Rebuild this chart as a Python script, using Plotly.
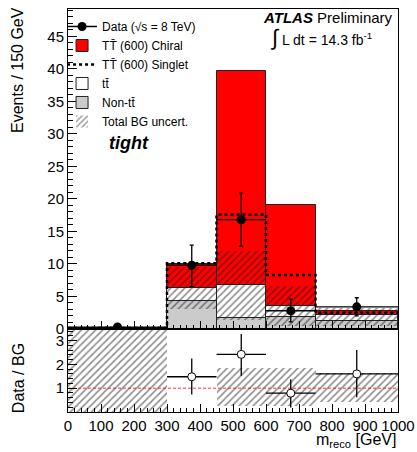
import plotly.graph_objects as go

# ---- data ----
bin_lo = [0, 300, 450, 600, 750]
bin_hi = [300, 450, 600, 750, 1000]
non_tt = [0.05, 4.3, 1.65, 1.9, 1.25]
ttbar = [0.05, 2.05, 5.05, 1.6, 0.9]
chiral = [0.05, 3.6, 33.0, 15.5, 0.65]
singlet = [0.15, 10.1, 17.6, 8.3, 2.5]

data_val = [0.3, 9.8, 16.8, 2.8, 3.4]
data_up = [0.0, 3.1, 4.1, 1.8, 1.4]
data_dn = [0.0, 3.3, 4.1, 1.7, 1.4]

band_lo = [0.0, 3.0, 1.4, 0.5, 0.45]
band_hi = [0.15, 9.5, 12.0, 6.6, 3.2]

ratio_val = [None, 1.48, 2.42, 0.79, 1.6]
ratio_up = [0, 0.77, 0.86, 0.59, 1.0]
ratio_dn = [0, 0.75, 0.9, 0.6, 0.98]
ratio_band_lo = [0.0, None, 0.24, 0.24, 0.4]
ratio_band_hi = [3.47, None, 1.83, 1.83, 1.62]

x_ticks = [0, 100, 200, 300, 400, 500, 600, 700, 800, 900, 1000]

# ---- derived ----
centers = [(a + b) / 2 for a, b in zip(bin_lo, bin_hi)]
widths = [b - a for a, b in zip(bin_lo, bin_hi)]
base_tt = non_tt
base_sig = [a + b for a, b in zip(non_tt, ttbar)]
band_h = [h - l for h, l in zip(band_hi, band_lo)]
rb_base = [l if l is not None else 0 for l in ratio_band_lo]
rb_h = [(h - l) if h is not None else 0 for h, l in zip(ratio_band_hi, ratio_band_lo)]
half_w = [w / 2 for w in widths]

FONT = "Liberation Sans, Arial, sans-serif"
OUT = "#222222"
hatch = dict(shape="/", fgcolor="#1a1a1a", bgcolor="rgba(0,0,0,0)", size=5,
             solidity=0.32, fillmode="overlay")

fig = go.Figure()

# main stack
fig.add_trace(go.Bar(x=centers, y=non_tt, base=[0] * 5, width=widths,
                     marker=dict(color="#cbcbcb", line=dict(color=OUT, width=1)),
                     name="Non-tt̄", legendrank=5, xaxis="x", yaxis="y"))
fig.add_trace(go.Bar(x=centers, y=ttbar, base=base_tt, width=widths,
                     marker=dict(color="white", line=dict(color=OUT, width=1)),
                     name="tt̄", legendrank=4, xaxis="x", yaxis="y"))
fig.add_trace(go.Bar(x=centers, y=chiral, base=base_sig, width=widths,
                     marker=dict(color="#ff0000", line=dict(color=OUT, width=1)),
                     name="TT̄ (600) Chiral", legendrank=2, xaxis="x", yaxis="y"))
fig.add_trace(go.Bar(x=centers, y=band_h, base=band_lo, width=widths,
                     marker=dict(color="rgba(0,0,0,0)", pattern=hatch,
                                 line=dict(width=0)),
                     name="Total BG uncert.", legendrank=6, xaxis="x", yaxis="y"))

# singlet dotted line
fig.add_trace(go.Scatter(x=bin_lo + [bin_hi[-1]], y=singlet + [singlet[-1]],
                         mode="lines", line=dict(color="black", width=2.5, dash="dot", shape="hv"),
                         name="TT̄ (600) Singlet", legendrank=3, xaxis="x", yaxis="y"))

# data
fig.add_trace(go.Scatter(x=centers, y=data_val, mode="markers",
                         marker=dict(color="black", size=9),
                         error_y=dict(type="data", symmetric=False, array=data_up,
                                      arrayminus=data_dn, color="black", thickness=1.3, width=2),
                         error_x=dict(type="data", array=half_w, color="black",
                                      thickness=1.3, width=0),
                         showlegend=False, xaxis="x", yaxis="y"))
fig.add_trace(go.Scatter(x=[None], y=[None], mode="lines+markers",
                         marker=dict(color="black", size=9), line=dict(color="black", width=1.5),
                         name="Data (√s = 8 TeV)", legendrank=1, xaxis="x", yaxis="y"))

# ratio panel
fig.add_trace(go.Bar(x=centers, y=rb_h, base=rb_base, width=widths,
                     marker=dict(color="rgba(0,0,0,0)", pattern=hatch, line=dict(width=0)),
                     showlegend=False, xaxis="x2", yaxis="y2"))
fig.add_trace(go.Scatter(x=[bin_lo[0], bin_hi[-1]], y=[1, 1], mode="lines",
                         line=dict(color="red", width=0.8, dash="3px,2px"),
                         showlegend=False, xaxis="x2", yaxis="y2"))
fig.add_trace(go.Scatter(x=centers, y=ratio_val, mode="markers",
                         marker=dict(color="white", size=8, line=dict(color="black", width=1)),
                         error_y=dict(type="data", symmetric=False, array=ratio_up,
                                      arrayminus=ratio_dn, color="black", thickness=1.3, width=0),
                         error_x=dict(type="data", array=half_w, color="black",
                                      thickness=1.3, width=0),
                         showlegend=False, xaxis="x2", yaxis="y2"))

axis_common = dict(showline=True, linecolor="black", linewidth=1, mirror=True,
                   ticks="inside", tickcolor="black", showgrid=False, zeroline=False,
                   tickangle=0, automargin=False,
                   tickfont=dict(family=FONT, size=15, color="black"))

fig.update_layout(
    width=417, height=452,
    margin=dict(l=68, r=19, t=9, b=40),
    paper_bgcolor="white", plot_bgcolor="white",
    barmode="overlay", bargap=0,
    font=dict(family=FONT, color="black"),
    xaxis=dict(domain=[0, 1], range=[0, 1000], anchor="y", showticklabels=False,
               tickvals=x_ticks, ticklen=8,
               minor=dict(ticks="inside", ticklen=4, dtick=20, tickcolor="black"),
               **axis_common),
    yaxis=dict(domain=[0.206, 1], range=[0, 49.2], anchor="x", dtick=5, ticklen=9,
               minor=dict(ticks="inside", ticklen=5, dtick=1, tickcolor="black"),
               **axis_common),
    xaxis2=dict(domain=[0, 1], range=[0, 1000], anchor="y2", matches="x",
                tickvals=x_ticks, ticklen=8, ticklabelstandoff=0,
                minor=dict(ticks="inside", ticklen=4, dtick=20, tickcolor="black"),
                **axis_common),
    yaxis2=dict(domain=[0, 0.205], range=[0, 3.47], anchor="x2", tickvals=[1, 2, 3],
                ticklen=9, minor=dict(ticks="inside", ticklen=5, dtick=0.2, tickcolor="black"),
                **axis_common),
    legend=dict(x=-0.018, y=0.9926, xanchor="left", yanchor="top",
                bgcolor="rgba(0,0,0,0)", font=dict(family=FONT, size=12, color="black"),
                traceorder="normal", tracegroupgap=0),
    annotations=[
        dict(text="Events / 150 GeV", x=-0.1515, y=1.01, xref="paper", yref="paper",
             textangle=-90, xanchor="center", yanchor="top", showarrow=False,
             font=dict(family=FONT, size=16)),
        dict(text="Data / BG", x=-0.1515, y=0.084, xref="paper", yref="paper",
             textangle=-90, xanchor="center", yanchor="middle", showarrow=False,
             font=dict(family=FONT, size=16)),
        dict(text="m<sub>reco</sub> [GeV]", x=1.0, y=-0.099, xref="paper", yref="paper",
             xanchor="right", yanchor="bottom", showarrow=False,
             font=dict(family=FONT, size=16)),
        dict(text="<b><i>ATLAS</i></b> Preliminary", x=0.991, y=0.980, xref="paper",
             yref="paper", xanchor="right", yanchor="middle", showarrow=False,
             font=dict(family=FONT, size=15)),
        dict(text="<span style='font-size:22px'>∫</span> L dt = 14.3 fb<sup>-1</sup>",
             x=0.606, y=0.930, xref="paper",
             yref="paper", xanchor="left", yanchor="middle", showarrow=False,
             font=dict(family=FONT, size=14)),
        dict(text="<b><i>tight</i></b>", x=0.185, y=0.667, xref="paper", yref="paper",
             xanchor="center", yanchor="middle", showarrow=False,
             font=dict(family=FONT, size=18)),
    ],
)

fig.write_html("out.html")
